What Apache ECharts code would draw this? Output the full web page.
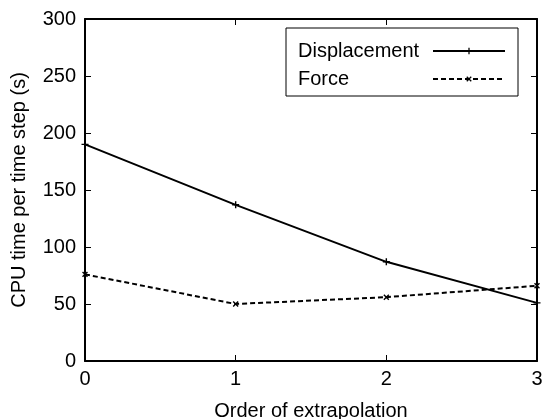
<!DOCTYPE html>
<html><head><meta charset="utf-8">
<script src="https://cdn.jsdelivr.net/npm/echarts@6/dist/echarts.min.js"></script>
<style>html,body{margin:0;padding:0;background:#fff}#c{width:545px;height:419px}</style>
</head><body><div id="c"></div>
<script>
const xValues = [0, 1, 2, 3];
const displacement = [190, 137, 87, 51];
const force = [76, 50, 56, 66];
const yTicks = [0, 50, 100, 150, 200, 250, 300];
const seriesNames = ['Displacement', 'Force'];

const FONT = 'Liberation Sans, Arial, Helvetica, sans-serif';
const FS = 20;
const plus = 'path://M4,0H6V4H10V6H6V10H4V6H0V4H4Z';
const chart = echarts.init(document.getElementById('c'));
const axisCommon = {
  axisLine: {show: true, onZero: false, lineStyle: {color: '#000', width: 2}},
  axisTick: {show: true, inside: true, length: 6, lineStyle: {color: '#000', width: 1}},
  splitLine: {show: false}
};
chart.setOption({
  animation: false,
  backgroundColor: '#fff',
  grid: {left: 85, right: 8, top: 19, bottom: 58, containLabel: false, outerBoundsMode: 'none'},
  legend: {
    orient: 'vertical', align: 'right', left: 286, top: 28,
    borderColor: '#000', borderWidth: 1,
    padding: [13, 12, 7, 12],
    itemWidth: 72, itemHeight: 8, itemGap: 8,
    formatter: n => '{a|' + n + '}',
    textStyle: {fontFamily: FONT, fontSize: FS, color: '#000',
      rich: {a: {fontFamily: FONT, fontSize: FS, color: '#000', width: 130, align: 'left', lineHeight: 23}}},
    data: seriesNames
  },
  xAxis: [
    Object.assign({type: 'value', min: 0, max: 3, interval: 1, position: 'bottom',
      name: 'Order of extrapolation', nameLocation: 'middle', nameGap: 40,
      nameTextStyle: {fontFamily: FONT, fontSize: FS, color: '#000'},
      axisLabel: {fontFamily: FONT, fontSize: FS, color: '#000', margin: 8}}, axisCommon),
    Object.assign({type: 'value', min: 0, max: 3, interval: 1, position: 'top',
      axisLabel: {show: false}}, axisCommon)
  ],
  yAxis: [
    Object.assign({type: 'value', min: yTicks[0], max: yTicks[yTicks.length-1], interval: 50, position: 'left',
      name: 'CPU time per time step (s)', nameLocation: 'middle', nameGap: 56,
      nameTextStyle: {fontFamily: FONT, fontSize: FS, color: '#000'},
      axisLabel: {fontFamily: FONT, fontSize: FS, color: '#000', margin: 9}}, axisCommon),
    Object.assign({type: 'value', min: yTicks[0], max: yTicks[yTicks.length-1], interval: 50, position: 'right',
      axisLabel: {show: false}}, axisCommon)
  ],
  series: [
    {name: seriesNames[0], type: 'line', data: xValues.map((x, i) => [x, displacement[i]]),
      symbol: plus, symbolSize: 7, showSymbol: true, clip: false,
      lineStyle: {color: '#000', width: 2, type: 'solid'}, itemStyle: {color: '#000'}},
    {name: seriesNames[1], type: 'line', data: xValues.map((x, i) => [x, force[i]]),
      symbol: plus, symbolSize: 7, symbolRotate: 45, showSymbol: true, clip: false,
      lineStyle: {color: '#000', width: 2, type: [5, 3]}, itemStyle: {color: '#000'}}
  ]
});
</script></body></html>
